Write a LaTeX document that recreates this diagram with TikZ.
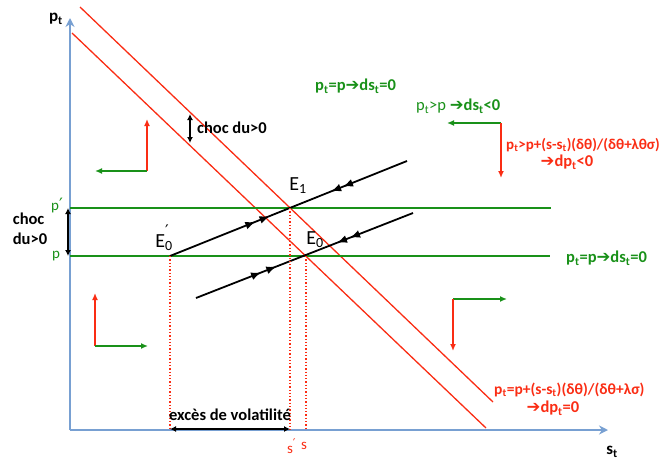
\documentclass[tikz,border=0pt]{standalone}
\usepackage{fontspec}
\setmainfont{Carlito}
\newfontfamily\dvfont{DejaVu Sans}
\usetikzlibrary{arrows.meta,decorations.markings}
\definecolor{gr}{RGB}{25,145,25}
\definecolor{rd}{RGB}{250,45,20}
\definecolor{axc}{RGB}{120,160,210}
\newcommand{\myarr}{{\dvfont\char"2794}}
\newcommand{\myprime}{{\dvfont\char"2032}}
\newcommand{\sub}[1]{\textsubscript{#1}}
\begin{document}
\begin{tikzpicture}[x=1pt,y=-1pt,
  axisline/.style={draw=axc,line width=1.8pt,-{Stealth[length=9pt,width=9pt]}},
  redline/.style={draw=rd,line width=1.3pt},
  greenline/.style={draw=gr,line width=1.3pt},
  dotline/.style={draw=rd,line width=1.3pt,dotted},
  saddle/.style={draw=black,line width=1.8pt},
  dirred/.style={draw=rd,line width=2pt,-{Latex[length=7pt,width=6pt]}},
  dirgreen/.style={draw=gr,line width=2pt,-{Latex[length=7pt,width=6pt]}},
  dbl/.style={draw=black,line width=1.6pt,{Latex[length=6pt,width=6pt]}-{Latex[length=6pt,width=6pt]}},
  lab/.style={font=\fontsize{16.5}{20}\selectfont\bfseries,inner sep=0pt},
  elab/.style={font=\fontsize{20}{22}\selectfont,inner sep=0pt},
  tip/.tip={Latex[length=10pt,width=8pt]},
]
\useasboundingbox (0,0) rectangle (659,461);
% axes
\coordinate (O) at (70,430);
\coordinate (Ytop) at (70,18);
\coordinate (Xend) at (608,430);
\draw[axisline] (O) -- (Ytop);
\draw[axisline] (O) -- (Xend);
\node[lab,font=\fontsize{17}{19}\selectfont\bfseries] (ptlab) at (56,19) {p\sub{t}};
\node[lab,font=\fontsize{17}{19}\selectfont\bfseries] (stlab) at (612,452) {s\sub{t}};
% red lines dp=0
\coordinate (R1a) at (72,33);
\coordinate (R1b) at (486,428);
\coordinate (R2a) at (80,7);
\coordinate (R2b) at (493,402);
\draw[redline] (R1a) -- (R1b);
\draw[redline] (R2a) -- (R2b);
% green lines ds=0
\coordinate (Pa) at (70,256);
\coordinate (Pb) at (550,256);
\coordinate (Qa) at (70,208);
\coordinate (Qb) at (551,208);
\draw[greenline] (Pa) -- (Pb);
\draw[greenline] (Qa) -- (Qb);
\node[inner sep=0pt,text=gr,font=\fontsize{15}{17}\selectfont] (plab) at (56,256) {p};
\node[inner sep=0pt,text=gr,font=\fontsize{15}{17}\selectfont] (pplab) at (57,206) {p{\fontsize{17}{17}\selectfont\myprime}};
% equilibria
\coordinate (E0) at (306,256);
\coordinate (E1) at (290,208);
\coordinate (E0p) at (170,256);
\coordinate (S1end) at (407,161);
\coordinate (S2a) at (196,298);
\coordinate (S2b) at (413,213);
\draw[saddle,postaction={decorate},decoration={markings,
  mark=at position 0.36 with {\arrow{tip}},
  mark=at position 0.42 with {\arrow{tip}},
  mark=at position 0.68 with {\arrowreversed{tip}},
  mark=at position 0.73 with {\arrowreversed{tip}}}] (E0p) -- (S1end);
\draw[saddle,postaction={decorate},decoration={markings,
  mark=at position 0.30 with {\arrow{tip}},
  mark=at position 0.37 with {\arrow{tip}},
  mark=at position 0.65 with {\arrowreversed{tip}},
  mark=at position 0.71 with {\arrowreversed{tip}}}] (S2a) -- (S2b);
\node[elab] (E1lab) at (298,186) {E\sub{1}};
\node[elab] (E0lab) at (315,240) {E\sub{0}};
\node[elab] (E0plab) at (164,238) {E\rlap{\raisebox{1.1ex}{\fontsize{16}{16}\selectfont\myprime}}\sub{0}};
% dotted verticals
\coordinate (D0p) at (170,430);
\coordinate (D1) at (290,430);
\coordinate (D0) at (306,430);
\draw[dotline] (E0p) -- (D0p);
\draw[dotline] (E1) -- (D1);
\draw[dotline] (E0) -- (D0);
\node[inner sep=0pt,text=rd,font=\fontsize{15}{17}\selectfont] (splab) at (290,446) {s\rlap{\raisebox{0.9ex}{\fontsize{12}{12}\selectfont\myprime}}};
\node[inner sep=0pt,text=rd,font=\fontsize{15}{17}\selectfont] (slab) at (304,446) {s};
% excess volatility
\coordinate (V0) at (170,429);
\coordinate (V1) at (290,429);
\draw[dbl] (V0) -- (V1);
\node[lab] (vol) at (230,415) {excès de volatilité};
% shocks
\coordinate (C1a) at (68,208);
\coordinate (C1b) at (68,256);
\draw[dbl] (C1a) -- (C1b);
\node[lab,align=left] (choc1) at (30,229) {choc\\du>0};
\coordinate (C2a) at (190,114);
\coordinate (C2b) at (190,143);
\draw[dbl] (C2a) -- (C2b);
\node[lab,anchor=west] (choc2) at (197,128) {choc du>0};
% direction arrows
\coordinate (UL) at (147,171);
\coordinate (ULu) at (147,119);
\coordinate (ULl) at (95,171);
\draw[dirred] (UL) -- (ULu);
\draw[dirgreen] (UL) -- (ULl);
\coordinate (LL) at (95,346);
\coordinate (LLu) at (95,293);
\coordinate (LLr) at (148,346);
\draw[dirred] (LL) -- (LLu);
\draw[dirgreen] (LL) -- (LLr);
\coordinate (LR) at (453,299);
\coordinate (LRr) at (507,299);
\coordinate (LRd) at (453,351);
\draw[dirgreen] (LR) -- (LRr);
\draw[dirred] (LR) -- (LRd);
\coordinate (UR) at (501,123);
\coordinate (URl) at (447,123);
\coordinate (URd) at (501,178);
\draw[dirgreen] (UR) -- (URl);
\draw[dirred] (UR) -- (URd);
% texts
\node[lab,text=gr,anchor=west] (t1) at (315,86) {p\sub{t}=p\myarr ds\sub{t}=0};
\node[lab,text=gr,anchor=west] (t2) at (416,106) {\mdseries p\sub{t}>p \bfseries\myarr ds\sub{t}<0};
\node[lab,text=rd,anchor=west,font=\fontsize{15}{17}\selectfont\bfseries] (t3) at (506,145) {p\sub{t}>p+(s-s\sub{t})(δθ)/(δθ+λθσ)};
\node[lab,text=rd] (t4) at (567,162) {\myarr dp\sub{t}<0};
\node[lab,text=gr,anchor=west] (t5) at (566,258) {p\sub{t}=p\myarr ds\sub{t}=0};
\node[lab,text=rd,anchor=west,font=\fontsize{15.5}{17}\selectfont\bfseries] (t6) at (494,390) {p\sub{t}=p+(s-s\sub{t})(δθ)/(δθ+λσ)};
\node[lab,text=rd] (t7) at (553,408) {\myarr dp\sub{t}=0};
\end{tikzpicture}
\end{document}
